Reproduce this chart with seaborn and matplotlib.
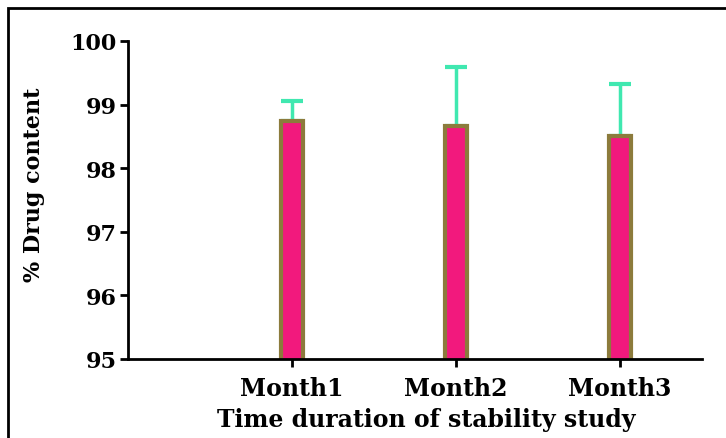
import numpy as np
import pandas as pd
import seaborn as sns
import matplotlib.pyplot as plt
from matplotlib.patches import Rectangle

# values
months = ['Month1', 'Month2', 'Month3']
drug_content = [98.74, 98.66, 98.51]
sd = [0.32, 0.93, 0.81]
y_ticks = [95, 96, 97, 98, 99, 100]

df = pd.DataFrame({'month': months, 'content': drug_content, 'sd': sd})

sns.set_style('ticks')
plt.rcParams['font.family'] = ['DejaVu Serif']
plt.rcParams['font.weight'] = 'bold'
plt.rcParams['text.color'] = 'black'
plt.rcParams['axes.labelcolor'] = 'black'
plt.rcParams['xtick.color'] = 'black'
plt.rcParams['ytick.color'] = 'black'

fig = plt.figure(figsize=(7.26, 4.39), dpi=100)
ax = fig.add_axes([128 / 726, 79 / 439, 574 / 726, 318 / 439])

# error bars (upper only), drawn under the bars
ax.errorbar(x=np.arange(len(df)), y=df['content'], yerr=[np.zeros(len(df)), df['sd']],
            fmt='none', ecolor='#40E8B0', elinewidth=2.5, capsize=8, capthick=3, zorder=1)

sns.barplot(data=df, x='month', y='content', ax=ax, width=0.13, color='#F2197D',
            edgecolor='#8C7B3C', linewidth=3, saturation=1, zorder=2)

ax.set_ylim(95, 100)
ax.set_xlim(-1, 2.5)
ax.set_yticks(y_ticks)
ax.set_yticklabels([str(t) for t in y_ticks])

sns.despine(ax=ax)
for side in ['left', 'bottom']:
    ax.spines[side].set_linewidth(2)
    ax.spines[side].set_color('black')
ax.tick_params(axis='both', length=6, width=2, color='black', labelcolor='black', labelsize=16)
ax.tick_params(axis='x', labelsize=17, pad=6)
ax.tick_params(axis='y', pad=2)
for lbl in ax.get_xticklabels() + ax.get_yticklabels():
    lbl.set_fontweight('bold')

ax.set_xlabel('Time duration of stability study', fontsize=17, fontweight='bold', color='black')
ax.set_ylabel('% Drug content', fontsize=16, fontweight='bold', color='black')
ax.xaxis.set_label_coords(0.52, -0.15)
ax.yaxis.set_label_coords(-0.145, 0.55)

# frame line around the picture (only top and left visible)
fig.patches.append(Rectangle((8 / 726, -0.1), 1.2, 1.1 - 9 / 439, transform=fig.transFigure,
                             fill=False, edgecolor='black', linewidth=2))

fig.savefig('out.png', dpi=100)
